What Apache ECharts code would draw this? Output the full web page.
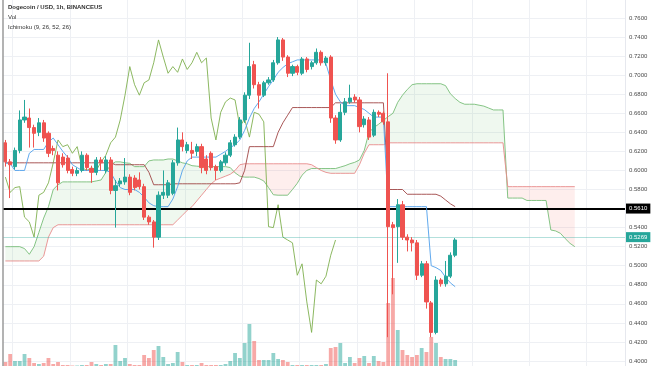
<!DOCTYPE html>
<html><head><meta charset="utf-8">
<script src="https://cdn.jsdelivr.net/npm/echarts@6/dist/echarts.min.js"></script>
<style>html,body{margin:0;padding:0;background:#fff}#c{width:654px;height:366px}</style>
</head><body><div id="c"></div>
<script>
// ---- data ----
const slotCount = 130; // hourly slots shown (95 candles + 26-bar cloud projection + right margin)
const opens = [0.629,0.609,0.604,0.621,0.653,0.655,0.645,0.640,0.650,0.639,
 0.623,0.616,0.614,0.613,0.601,0.597,0.600,0.616,0.602,0.598,
 0.611,0.600,0.611,0.579,0.586,0.588,0.593,0.592,0.590,0.583,
 0.551,0.546,0.530,0.574,0.574,0.576,0.608,0.632,0.621,0.621,
 0.620,0.625,0.612,0.618,0.604,0.600,0.608,0.616,0.627,0.635,
 0.653,0.679,0.711,0.690,0.679,0.692,0.695,0.713,0.737,0.719,
 0.702,0.709,0.702,0.717,0.709,0.713,0.724,0.713,0.719,0.655,
 0.632,0.661,0.672,0.677,0.674,0.648,0.653,0.637,0.661,0.660,
 0.651,0.543,0.541,0.564,0.530,0.527,0.524,0.490,0.502,0.461,
 0.430,0.485,0.481,0.489,0.511];
const closes = [0.609,0.606,0.621,0.653,0.656,0.645,0.639,0.650,0.634,0.618,
 0.621,0.587,0.606,0.600,0.597,0.600,0.616,0.603,0.598,0.611,
 0.608,0.611,0.579,0.584,0.589,0.593,0.577,0.582,0.583,0.551,
 0.546,0.530,0.574,0.577,0.587,0.608,0.632,0.625,0.627,0.618,
 0.625,0.603,0.600,0.603,0.600,0.609,0.616,0.629,0.635,0.653,
 0.679,0.709,0.690,0.679,0.692,0.695,0.713,0.737,0.719,0.702,
 0.709,0.703,0.717,0.706,0.713,0.724,0.713,0.718,0.655,0.632,
 0.661,0.672,0.676,0.674,0.646,0.654,0.635,0.661,0.659,0.651,
 0.541,0.540,0.564,0.530,0.527,0.524,0.490,0.502,0.462,0.430,
 0.485,0.481,0.489,0.511,0.527];
const highs = [0.632,0.612,0.624,0.663,0.674,0.665,0.648,0.655,0.653,0.641,
 0.626,0.620,0.618,0.616,0.604,0.603,0.620,0.618,0.605,0.614,
 0.614,0.615,0.614,0.590,0.592,0.613,0.596,0.595,0.598,0.586,
 0.553,0.548,0.578,0.600,0.590,0.611,0.645,0.640,0.630,0.630,
 0.628,0.628,0.616,0.620,0.606,0.611,0.619,0.632,0.638,0.656,
 0.682,0.734,0.715,0.693,0.694,0.698,0.716,0.740,0.739,0.721,
 0.711,0.711,0.719,0.719,0.715,0.728,0.726,0.720,0.721,0.658,
 0.670,0.676,0.690,0.680,0.677,0.657,0.656,0.664,0.663,0.662,
 0.702,0.546,0.570,0.568,0.533,0.530,0.527,0.505,0.505,0.463,
 0.489,0.487,0.505,0.514,0.529];
const lows = [0.604,0.571,0.601,0.618,0.650,0.624,0.624,0.636,0.630,0.614,
 0.616,0.579,0.603,0.597,0.594,0.594,0.598,0.600,0.587,0.595,
 0.600,0.597,0.575,0.540,0.583,0.585,0.574,0.579,0.580,0.548,
 0.543,0.519,0.527,0.570,0.571,0.574,0.605,0.620,0.618,0.612,
 0.615,0.597,0.596,0.600,0.590,0.598,0.605,0.614,0.625,0.633,
 0.650,0.675,0.686,0.665,0.677,0.690,0.693,0.711,0.715,0.698,
 0.699,0.700,0.700,0.703,0.706,0.711,0.710,0.710,0.650,0.628,
 0.630,0.658,0.670,0.671,0.640,0.645,0.632,0.635,0.656,0.648,
 0.425,0.470,0.503,0.527,0.515,0.515,0.485,0.488,0.455,0.425,
 0.428,0.478,0.478,0.487,0.509];
const volumes = [4,12,5,5,12,8,3,2,3,8, 2,4,1,1,0.5,0.5,1,1,4,2,
 1,2,2,21,5,8,2,1,1,11, 8,16,20,9,2,3,14,4,1,1,
 1,3,1,1,1,1,2,5,13,8, 23,42,25,6,6,6,13,7,6,4,
 1,1,1,1,1,1,1,2,18,19, 23,3,9,3,8,10,3,10,5,4,
 63,88,36,16,11,9,11,18,14,29, 23,9,7,7,6];
const tenkan = [0.608,0.607,0.600,0.600,0.600,0.618,0.622,0.622,0.622,0.630,
 0.634,0.627,0.620,0.614,0.606,0.603,0.600,0.600,0.600,0.600,
 0.600,0.600,0.598,0.589,0.582,0.580,0.580,0.580,0.577,0.572,
 0.566,0.563,0.562,0.562,0.562,0.570,0.583,0.600,0.610,0.614,
 0.614,0.614,0.614,0.614,0.614,0.617,0.620,0.624,0.627,0.632,
 0.642,0.655,0.665,0.672,0.680,0.688,0.695,0.703,0.708,0.712,
 0.714,0.716,0.716,0.716,0.716,0.716,0.716,0.712,0.695,0.680,
 0.672,0.668,0.668,0.668,0.666,0.664,0.660,0.656,0.656,0.656,
 0.562,0.562,0.562,0.562,0.562,0.562,0.562,0.562,0.562,0.500,
 0.498,0.495,0.488,0.482,0.478];
const kijun = [0.608,0.608,0.608,0.608,0.608,0.608,0.608,0.608,0.608,0.608,
 0.608,0.608,0.608,0.608,0.608,0.608,0.608,0.608,0.608,0.608,
 0.608,0.608,0.608,0.606,0.606,0.606,0.606,0.606,0.606,0.606,
 0.598,0.585,0.585,0.585,0.585,0.586,0.586,0.586,0.586,0.586,
 0.586,0.586,0.586,0.586,0.586,0.586,0.586,0.586,0.586,0.587,
 0.600,0.625,0.625,0.625,0.625,0.625,0.625,0.640,0.650,0.658,
 0.666,0.666,0.666,0.666,0.666,0.666,0.666,0.666,0.666,0.671,
 0.671,0.671,0.671,0.671,0.671,0.671,0.671,0.671,0.671,0.671,
 0.580,0.580,0.580,0.580,0.575,0.575,0.575,0.575,0.575,0.575,
 0.575,0.573,0.569,0.565,0.562];
const senkouA = [0.520,0.520,0.520,0.520,0.518,0.512,0.520,0.535,0.550,0.562,
 0.580,0.585,0.588,0.588,0.588,0.588,0.588,0.588,0.588,0.589,
 0.590,0.598,0.606,0.609,0.609,0.608,0.6075,0.604,0.604,0.604,
 0.610,0.611,0.611,0.611,0.612,0.612,0.610,0.608,0.607,0.605,
 0.6045,0.604,0.604,0.604,0.604,0.604,0.604,0.603,0.5975,0.594,
 0.593,0.593,0.593,0.5915,0.589,0.582,0.5745,0.574,0.574,0.574,
 0.580,0.5865,0.595,0.600,0.602,0.602,0.602,0.602,0.602,0.602,
 0.6035,0.605,0.607,0.6085,0.611,0.621,0.640,0.645,0.6485,0.6525,
 0.6565,0.660,0.6715,0.679,0.685,0.690,0.691,0.691,0.691,0.691,
 0.691,0.691,0.689,0.6805,0.6755,0.6715,0.6695,0.6695,0.6695,0.6685,
 0.6675,0.6655,0.6635,0.6635,0.6635,0.571,0.571,0.571,0.571,0.5685,
 0.5685,0.5685,0.5685,0.5685,0.5375,0.5365,0.534,0.5285,0.5235,0.520];
const senkouB = [0.505,0.505,0.505,0.505,0.505,0.505,0.505,0.505,0.510,0.530,
 0.540,0.543,0.543,0.543,0.543,0.543,0.543,0.543,0.543,0.543,
 0.543,0.543,0.543,0.543,0.543,0.543,0.543,0.543,0.543,0.543,
 0.543,0.543,0.543,0.543,0.543,0.543,0.548,0.553,0.558,0.562,
 0.568,0.574,0.580,0.586,0.590,0.592,0.594,0.596,0.600,0.606,
 0.607,0.607,0.607,0.607,0.607,0.607,0.607,0.607,0.607,0.607,
 0.607,0.607,0.607,0.607,0.606,0.603,0.600,0.598,0.597,0.597,
 0.597,0.597,0.597,0.597,0.606,0.618,0.627,0.627,0.627,0.627,
 0.629,0.629,0.629,0.629,0.629,0.629,0.629,0.629,0.629,0.629,
 0.629,0.629,0.629,0.629,0.629,0.629,0.629,0.629,0.629,0.629,
 0.629,0.629,0.629,0.629,0.629,0.583,0.583,0.583,0.583,0.583,
 0.583,0.583,0.583,0.583,0.583,0.583,0.583,0.583,0.583,0.583];
const laggingShift = 25;            // chikou span drawn 25 bars back
const chikou = closes.slice(laggingShift);
const yTicks = {min:0.40, max:0.76, step:0.02};
const levelLine = 0.5610;
const lastPrice = 0.5269;
const titleLines = ['Dogecoin / USD, 1h, BINANCEUS','Vol','Ichimoku (9, 26, 52, 26)'];

// ---- build library structures ----
const cats = Array.from({length:slotCount},(_,i)=>String(i));
const candles = opens.map((o,i)=>[o,closes[i],lows[i],highs[i]]);
const UP='#26a69a', DN='#ef5350';
const volData = volumes.map((v,i)=>({value:v,itemStyle:{color: closes[i]>=opens[i]?'rgba(38,166,154,0.5)':'rgba(239,83,80,0.5)'}}));
const cloudBase = senkouA.map((a,i)=>Math.min(a,senkouB[i]));
const greenPart = senkouA.map((a,i)=>Math.max(a-senkouB[i],0));
const redPart = senkouA.map((a,i)=>Math.max(senkouB[i]-a,0));

const chart = echarts.init(document.getElementById('c'),null,{renderer:'canvas'});
const gridL=3, gridR=29;
const line=(name,data,color,z)=>({name,type:'line',data,xAxisIndex:0,yAxisIndex:0,symbol:'none',showSymbol:false,
  lineStyle:{color,width:1},z,silent:true,animation:false});
const boxLabel=(txt,bg)=>({show:true,position:'end',distance:1,formatter:txt,color:'#ffffff',backgroundColor:bg,
  padding:[2,3,2,3],fontSize:6,fontFamily:'Liberation Sans, Arial'});
chart.setOption({
  animation:false,
  backgroundColor:'#ffffff',
  grid:[{left:gridL,right:gridR,top:18,bottom:5},{left:gridL,right:gridR,top:0,bottom:0}],
  xAxis:[
    {type:'category',gridIndex:0,data:cats,boundaryGap:true,axisLine:{show:false},axisTick:{show:false},axisLabel:{show:false},splitLine:{show:false}},
    {type:'category',gridIndex:1,data:cats,boundaryGap:true,axisLine:{show:false},axisTick:{show:false},axisLabel:{show:false},
      splitLine:{show:true,interval:(i)=>i%12===2,lineStyle:{color:'#eef0f4',width:1}}}
  ],
  yAxis:[
    {type:'value',gridIndex:0,position:'right',min:yTicks.min,max:yTicks.max,interval:yTicks.step,
      axisLine:{show:false},axisTick:{show:false},
      axisLabel:{color:'#4a4a4a',fontSize:6,fontFamily:'Liberation Sans, Arial',margin:4,formatter:v=>v.toFixed(4)},
      splitLine:{show:true,lineStyle:{color:'#eef0f4',width:1}}},
    {type:'value',gridIndex:1,min:0,max:366,show:false,splitLine:{show:false}}
  ],
  series:[
    {name:'Vol',type:'bar',xAxisIndex:1,yAxisIndex:1,data:volData,barWidth:'80%',z:1,silent:true},
    {name:'base1',type:'line',stack:'g',data:cloudBase,symbol:'none',lineStyle:{opacity:0},z:2,silent:true},
    {name:'cloudG',type:'line',stack:'g',data:greenPart,symbol:'none',lineStyle:{opacity:0},areaStyle:{color:'rgba(76,175,80,0.13)'},z:2,silent:true},
    {name:'base2',type:'line',stack:'r',data:cloudBase,symbol:'none',lineStyle:{opacity:0},z:2,silent:true},
    {name:'cloudR',type:'line',stack:'r',data:redPart,symbol:'none',lineStyle:{opacity:0},areaStyle:{color:'rgba(244,67,54,0.13)'},z:2,silent:true},
    line('Lead 1',senkouA,'rgba(120,190,120,0.9)',3),
    line('Lead 2',senkouB,'rgba(232,140,140,0.9)',3),
    line('Lagging Span',chikou,'rgba(128,176,80,0.9)',4),
    line('Base Line',kijun,'rgba(160,70,70,0.9)',5),
    line('Conversion Line',tenkan,'rgba(80,160,235,0.9)',6),
    {name:'DOGE',type:'candlestick',xAxisIndex:0,yAxisIndex:0,data:candles,barWidth:'76%',z:8,silent:true,
      itemStyle:{color:UP,color0:DN,borderColor:UP,borderColor0:DN,borderWidth:1},
      markLine:{symbol:['none','none'],silent:true,animation:false,
        data:[
          {yAxis:lastPrice,lineStyle:{color:'rgba(38,166,154,0.35)',width:1,type:'solid'},label:boxLabel(lastPrice.toFixed(4),UP)},
          {yAxis:levelLine,lineStyle:{color:'#000',width:2,type:'solid'},label:boxLabel(levelLine.toFixed(4),'#000')}
        ]}}
  ],
  graphic:[
    {type:'line',shape:{x1:3,y1:0,x2:3,y2:366},style:{stroke:'#9a9a9a',lineWidth:1.5},z:100,silent:true},
    {type:'line',shape:{x1:625.5,y1:0,x2:625.5,y2:366},style:{stroke:'#e6e8ee',lineWidth:1},z:100,silent:true},
    {type:'text',left:8,top:4,style:{text:titleLines[0],fill:'#333',font:'bold 6px "Liberation Sans", Arial'},z:100,silent:true},
    {type:'text',left:8,top:14,style:{text:titleLines[1],fill:'#333',font:'6px "Liberation Sans", Arial'},z:100,silent:true},
    {type:'text',left:8,top:24,style:{text:titleLines[2],fill:'#333',font:'6px "Liberation Sans", Arial'},z:100,silent:true}
  ]
});
</script></body></html>
